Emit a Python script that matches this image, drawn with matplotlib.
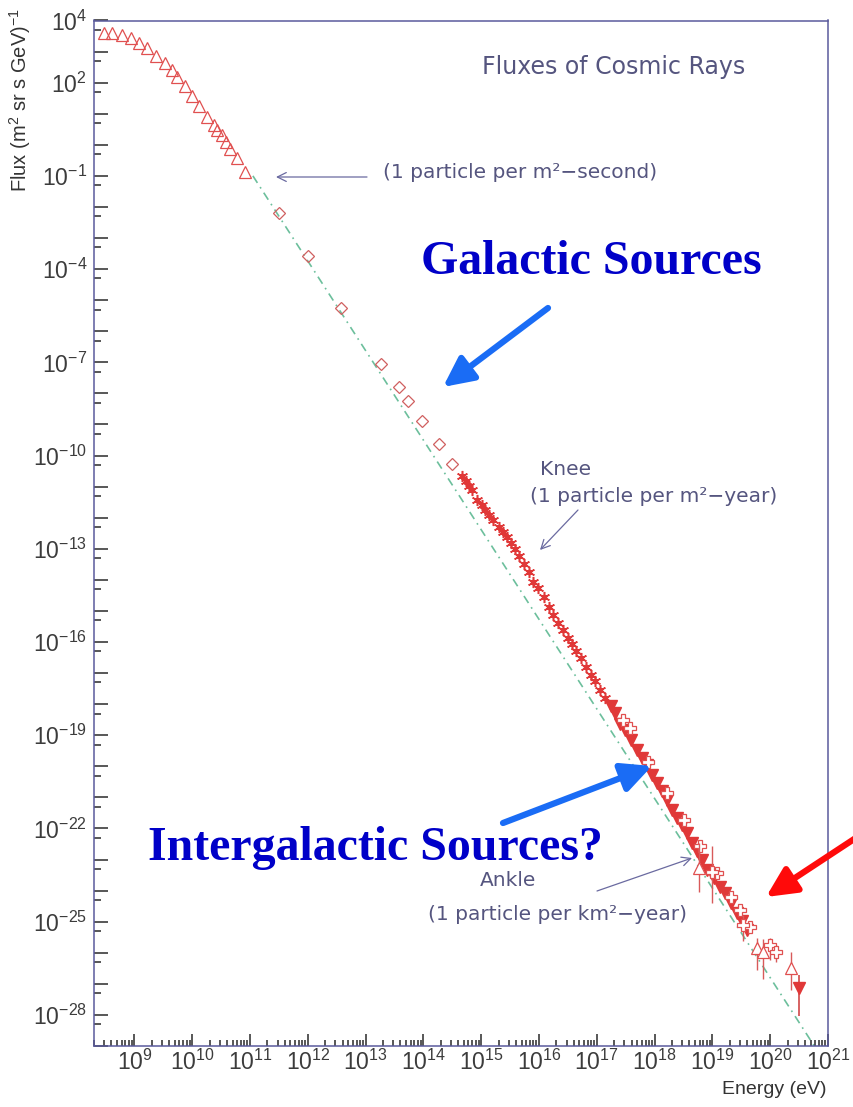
import numpy as np
import matplotlib.pyplot as plt
from matplotlib.ticker import FixedLocator, FuncFormatter, LogLocator, NullFormatter

plt.rcParams['mathtext.fontset'] = 'custom'
plt.rcParams['mathtext.rm'] = 'Liberation Sans'
plt.rcParams['mathtext.it'] = 'Liberation Sans:italic'
plt.rcParams['mathtext.default'] = 'rm'

# --- data: log10(E / eV) and log10(flux / (m^2 sr s GeV)^-1) ---
# direct measurements at low energy (open triangles)
tri_logE = [8.47, 8.62, 8.78, 8.94, 9.08, 9.22, 9.37, 9.53, 9.65, 9.73, 9.88,
            9.99, 10.11, 10.25, 10.37, 10.43, 10.51, 10.59, 10.65, 10.77, 10.91]
tri_logF = [3.61, 3.59, 3.53, 3.43, 3.29, 3.11, 2.86, 2.62, 2.41, 2.19, 1.89,
            1.57, 1.25, 0.89, 0.64, 0.48, 0.32, 0.10, -0.13, -0.43, -0.87]

# balloon / satellite (open diamonds)
dia_logE = [11.50, 12.00, 12.57, 13.27, 13.58, 13.73, 13.98, 14.27, 14.50]
dia_logF = [-2.20, -3.58, -5.24, -7.06, -7.78, -8.25, -8.88, -9.64, -10.28]

# air shower arrays around the knee (stars)
star_logE = [14.67, 14.73, 14.79, 14.84, 14.93, 15.01, 15.07, 15.14, 15.21,
             15.30, 15.37, 15.44, 15.52, 15.59, 15.65, 15.74, 15.82, 15.90,
             15.98, 16.09, 16.17, 16.25, 16.33, 16.42, 16.50, 16.57, 16.64,
             16.73, 16.81, 16.90, 16.97, 17.06, 17.15]
star_logF = [-10.66, -10.81, -10.98, -11.11, -11.43, -11.59, -11.75, -11.91,
             -12.07, -12.29, -12.45, -12.61, -12.82, -13.01, -13.23, -13.49,
             -13.74, -14.06, -14.27, -14.56, -14.86, -15.13, -15.40, -15.61,
             -15.88, -16.07, -16.28, -16.52, -16.79, -17.06, -17.27, -17.54,
             -17.81]

# fluorescence detectors (filled down triangles)
hr_logE = [17.25, 17.32, 17.40, 17.49, 17.60, 17.69, 17.78, 17.86, 17.95,
           18.04, 18.12, 18.21, 18.30, 18.38, 18.47, 18.56, 18.64, 18.73,
           18.82, 18.90, 19.02, 19.13, 19.22, 19.33, 19.42, 19.51, 19.59]
hr_logF = [-18.06, -18.28, -18.63, -18.83, -19.15, -19.47, -19.74, -19.95,
           -20.27, -20.54, -20.81, -21.08, -21.40, -21.67, -21.88, -22.15,
           -22.47, -22.74, -23.01, -23.33, -23.60, -23.87, -24.08, -24.40,
           -24.73, -24.99, -25.26]

# ground arrays at the highest energies (open crosses)
cr_logE = [17.46, 17.58, 17.89, 18.21, 18.50, 18.79, 19.08, 19.33, 19.48, 19.65]
cr_logF = [-18.51, -18.78, -19.85, -20.87, -21.72, -22.58, -23.44, -24.19,
           -24.61, -25.16]

# points with large error bars (open triangles / crosses)
etri_logE = [18.76, 19.77, 19.88, 20.36]
etri_logF = [-23.28, -25.85, -25.99, -26.50]
etri_lo = [-24.04, -26.55, -26.84, -27.19]
etri_hi = [-22.46, -25.53, -25.55, -25.96]

ecr_logE = [18.99, 19.53, 19.99, 20.10]
ecr_logF = [-23.40, -25.10, -25.75, -25.98]
ecr_lo = [-24.40, -25.62, -26.22, -26.29]
ecr_hi = [-22.58, -24.80, -25.54, -25.76]

# highest energy event (filled down triangle)
top_logE = [20.50]
top_logF = [-27.14]
top_lo = [-28.05]
top_hi = [-26.71]

# reference power law
ref_logE = [11.05, 20.78]
ref_logF = [-1.00, -29.05]

W, H = 854, 1107


def px(x, y):
    return x / W, 1 - y / H


def pw(vals):
    return 10.0 ** np.asarray(vals)


def yerr(f, lo, hi):
    f = pw(f)
    return [f - pw(lo), pw(hi) - f]


fig = plt.figure(figsize=(W / 100, H / 100), dpi=100)
ax = fig.add_axes([94 / W, 1 - 1046 / H, 734 / W, 1025.5 / H])
ax.set_xscale('log')
ax.set_yscale('log')
ax.set_xlim(2e8, 1e21)
ax.set_ylim(1e-29, 1e4)

red = '#e03838'
ax.plot(pw(ref_logE), pw(ref_logF), color='#6cbf9c', lw=1.2,
        ls=(0, (5, 3, 1, 3)), zorder=1)
ax.plot(pw(tri_logE), pw(tri_logF), ls='none', marker='^', ms=8,
        mfc='none', mec='#e05050', mew=0.9, zorder=3)
ax.plot(pw(dia_logE), pw(dia_logF), ls='none', marker='D', ms=6,
        mfc='none', mec='#d06060', mew=0.9, zorder=3)
ax.plot(pw(star_logE), pw(star_logF), ls='none', marker=(6, 2, 0), ms=8,
        mec=red, mew=1.1, zorder=3)
ax.plot(pw(star_logE), pw(star_logF), ls='none', marker='o', ms=3,
        mfc=red, mec=red, zorder=3)
ax.plot(pw(hr_logE), pw(hr_logF), ls='none', marker='v', ms=8,
        mfc=red, mec=red, zorder=3)
ax.plot(pw(cr_logE), pw(cr_logF), ls='none', marker='P', ms=9,
        mfc='white', mec='#e05050', mew=0.9, zorder=4)
ax.errorbar(pw(etri_logE), pw(etri_logF), yerr=yerr(etri_logF, etri_lo, etri_hi),
            ls='none', marker='^', ms=8, mfc='white', mec='#e05050', mew=0.9,
            ecolor='#d85a5a', elinewidth=1.0, zorder=4)
ax.errorbar(pw(ecr_logE), pw(ecr_logF), yerr=yerr(ecr_logF, ecr_lo, ecr_hi),
            ls='none', marker='P', ms=9, mfc='white', mec='#e05050', mew=0.9,
            ecolor='#d85a5a', elinewidth=1.0, zorder=4)
ax.errorbar(pw(top_logE), pw(top_logF), yerr=yerr(top_logF, top_lo, top_hi),
            ls='none', marker='v', ms=8, mfc=red, mec=red,
            ecolor='#d04848', elinewidth=1.2, zorder=4)

# axes frame and ticks
for sp in ax.spines.values():
    sp.set_color('#5a5a9c')
    sp.set_linewidth(1.1)

y_labelled = {4, 2, -1, -4, -7, -10, -13, -16, -19, -22, -25, -28}
ax.yaxis.set_major_locator(FixedLocator(10.0 ** np.arange(-29, 5)))
ax.yaxis.set_minor_locator(FixedLocator(5 * 10.0 ** np.arange(-30, 4)))
ax.yaxis.set_major_formatter(FuncFormatter(
    lambda v, p: r'$10^{%d}$' % round(np.log10(v))
    if round(np.log10(v)) in y_labelled else ''))
ax.yaxis.set_minor_formatter(NullFormatter())

ax.xaxis.set_major_locator(FixedLocator(10.0 ** np.arange(9, 22)))
ax.xaxis.set_minor_locator(LogLocator(base=10, subs=range(2, 10), numticks=100))
ax.xaxis.set_major_formatter(FuncFormatter(
    lambda v, p: r'$10^{%d}$' % round(np.log10(v))))
ax.xaxis.set_minor_formatter(NullFormatter())

ax.tick_params(which='both', direction='in', colors='#2a2a2a', width=1.1,
               labelcolor='#3c3c3c', labelsize=16.5)
ax.tick_params(axis='y', which='major', length=10, pad=5)
ax.tick_params(axis='y', which='minor', length=5)
ax.tick_params(axis='x', which='major', length=9, pad=3)
ax.tick_params(axis='x', which='minor', length=4.5)

fig.text(*px(20, 8), r'Flux (m$^2$ sr s GeV)$^{-1}$', rotation=90,
         ha='center', va='top', fontsize=14.5, color='#333333',
         family='Liberation Sans')
fig.text(*px(827, 1090), 'Energy (eV)', ha='right', va='center',
         fontsize=14, color='#333333', family='Liberation Sans')

# labels inside the frame
note = '#55557f'
fig.text(*px(482, 67), 'Fluxes of Cosmic Rays', ha='left', va='center',
         fontsize=17, color=note)
fig.text(*px(383, 172), '(1 particle per m²−second)', ha='left', va='center',
         fontsize=14.5, color=note)
fig.text(*px(540, 470), 'Knee', ha='left', va='center', fontsize=14.5, color=note)
fig.text(*px(530, 497), '(1 particle per m²−year)', ha='left', va='center',
         fontsize=14.5, color=note)
fig.text(*px(480, 880), 'Ankle', ha='left', va='center', fontsize=14.5, color=note)
fig.text(*px(428, 914), '(1 particle per km²−year)', ha='left', va='center',
         fontsize=14.5, color=note)

thin = dict(arrowstyle='->', lw=0.9, color='#6a6aa0', mutation_scale=16,
            shrinkA=0, shrinkB=0)
fig.add_artist(plt.Annotation('', xy=px(276, 177), xytext=px(367, 177),
                              xycoords='figure fraction', arrowprops=thin))
fig.add_artist(plt.Annotation('', xy=px(540, 550), xytext=px(578, 510),
                              xycoords='figure fraction', arrowprops=thin))
fig.add_artist(plt.Annotation('', xy=px(692, 858), xytext=px(597, 891),
                              xycoords='figure fraction', arrowprops=thin))

# source annotations
blue_txt = '#0000c8'
fig.text(*px(591, 262), 'Galactic Sources', ha='center', va='center',
         fontsize=34.5, fontweight='bold', color=blue_txt,
         family='Liberation Serif')
fig.text(*px(375, 848), 'Intergalactic Sources?', ha='center', va='center',
         fontsize=34.5, fontweight='bold', color=blue_txt,
         family='Liberation Serif')

def big_arrow(head, tail, color):
    fig.add_artist(plt.Annotation(
        '', xy=px(*head), xytext=px(*tail), xycoords='figure fraction',
        arrowprops=dict(arrowstyle='-|>,head_length=0.45,head_width=0.22',
                        lw=4.5, color=color, mutation_scale=40,
                        shrinkA=0, shrinkB=0)))

big_arrow((443, 387), (548, 308), '#1a6cf5')
big_arrow((652, 766), (503, 823), '#1a6cf5')
big_arrow((766, 897), (880, 822), '#ff0a0a')

fig.savefig('out.png', dpi=100, facecolor='white')
